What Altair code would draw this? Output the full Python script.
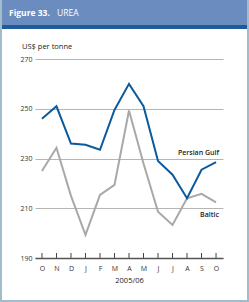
import altair as alt
import pandas as pd

months = ["O", "N", "D", "J", "F", "M", "A", "M", "J", "J", "A", "S", "O"]
persian_gulf = [246, 251, 236, 235.5, 233.5, 249.5, 260, 251, 229, 223.5, 214, 225.5, 228.5]
baltic = [225, 234.3, 215, 199.3, 215.4, 219.4, 249.3, 228, 208.6, 203.3, 214, 215.8, 212.4]
y_ticks = [190, 210, 230, 250, 270]

FONT = "Open Sans"
W, H = 188, 199
PL, PT = 35, 59

idx = list(range(len(months)))
df_pg = pd.DataFrame({"i": idx, "v": persian_gulf})
df_ba = pd.DataFrame({"i": idx, "v": baltic})
one = pd.DataFrame({"a": [0]})

label_expr = "[" + ",".join("'%s'" % m for m in months) + "][round(datum.value)]"

xs = alt.Scale(domain=[-0.48, 12.48], nice=False, zero=False)
ys = alt.Scale(domain=[190, 270], nice=False, zero=False)

x_axis = alt.Axis(
    values=idx, labelExpr=label_expr, grid=False, ticks=False,
    labelOverlap=False, labelFlush=False, labelBound=False,
    domain=True, domainColor="#555555", domainWidth=1.5,
    labelFont=FONT, labelFontSize=7, labelColor="#333333", labelPadding=6,
    title="2005/06", titleFont=FONT, titleFontSize=7.5, titleFontWeight="normal",
    titleColor="#222222", titlePadding=5)
y_axis = alt.Axis(
    values=y_ticks, grid=True, gridColor="#b5b5b5", gridWidth=1,
    domain=False, ticks=False, labelFont=FONT, labelFontSize=7,
    labelColor="#333333", labelPadding=3, title=None)

x_enc = alt.X("i:Q", scale=xs, axis=x_axis)
y_enc = alt.Y("v:Q", scale=ys, axis=y_axis)

baltic_line = alt.Chart(df_ba).mark_line(color="#a8a8a8", strokeWidth=2).encode(x=x_enc, y=y_enc)
pg_line = alt.Chart(df_pg).mark_line(color="#0b5a9e", strokeWidth=2).encode(x=x_enc, y=y_enc)

ticks = alt.Chart(df_pg).mark_rule(color="#444444", strokeWidth=1).encode(
    x=x_enc, y=alt.YDatum(190, scale=ys, axis=y_axis), y2=alt.value(H - 5))

labels_df = pd.DataFrame({"i": [12.2, 12.2], "v": [232.3, 207.3], "t": ["Persian Gulf", "Baltic"]})
series_labels = alt.Chart(labels_df).mark_text(
    align="right", baseline="middle", font=FONT, fontSize=7, fontWeight=600, color="#222222"
).encode(x=x_enc, y=y_enc, text="t:N")

def rect(x0, y0, x1, y1, color):
    return alt.Chart(one).mark_rect(color=color).encode(
        x=alt.value(x0 - PL), x2=alt.value(x1 - PL), y=alt.value(y0 - PT), y2=alt.value(y1 - PT))

def txt(x, y, s, size, weight="normal", color="#222222", align="left"):
    return alt.Chart(one).mark_text(
        align=align, baseline="middle", font=FONT, fontSize=size, fontWeight=weight, color=color
    ).encode(x=alt.value(x - PL), y=alt.value(y - PT), text=alt.value(s))

header = rect(0, 0, 249, 24.5, "#6b8cbf")
header_line = rect(0, 24.5, 249, 29, "#1d5b9b")
left_b = rect(0, 0, 2, 302, "#a3bccb")
right_b = rect(247, 0, 249, 302, "#a3bccb")
bottom_b = rect(0, 300, 249, 302, "#a3bccb")

title1 = txt(9, 12.5, "Figure 33.", 8.5, "bold", "white")
title2 = txt(57, 12.5, "UREA", 8.5, "normal", "white")
unit = txt(22, 47, "US$ per tonne", 7.5)

chart = alt.layer(
    baltic_line, pg_line, ticks, series_labels,
    header, header_line, left_b, right_b, bottom_b, title1, title2, unit
).properties(
    width=W, height=H,
    padding={"left": PL, "top": PT, "right": 249 - PL - W, "bottom": 302 - PT - H},
    autosize=alt.AutoSizeParams(type="none"),
    background="white",
).configure_view(stroke=None)

chart.save("out.html", embed_options={"renderer": "svg", "actions": False})
